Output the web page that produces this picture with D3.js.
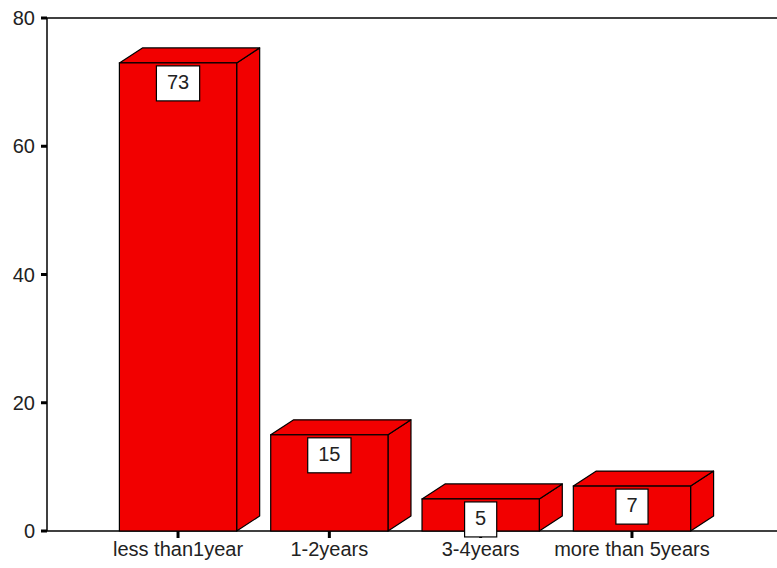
<!DOCTYPE html>
<html>
<head>
<meta charset="utf-8">
<script src="https://cdn.jsdelivr.net/npm/d3@7"></script>
<style>
body{margin:0;background:#fff;}
text{font-family:"Liberation Sans",Arial,sans-serif;fill:#222;}
</style>
</head>
<body>
<div id="chart"></div>
<script>
var categories = ["less than1year","1-2years","3-4years","more than 5years"];
var values = [73, 15, 5, 7];
var yTicks = [0, 20, 40, 60, 80];

var W = 777, H = 568;
var x0 = 47, yBase = 531, yTop = 18;
var dx = 23, dy = 15;
var red = "#f20000";

var svg = d3.select("#chart").append("svg").attr("width", W).attr("height", H);

var y = d3.scaleLinear().domain([0, 80]).range([yBase, yTop]);
var x = d3.scaleBand().domain(categories).range([102, 708])
	.paddingInner(0.225).paddingOuter(0.115);

// frame lines
svg.append("line").attr("x1", x0).attr("x2", W).attr("y1", yTop).attr("y2", yTop)
	.attr("stroke", "#000").attr("stroke-width", 1.5);
svg.append("line").attr("x1", x0).attr("x2", W).attr("y1", yBase).attr("y2", yBase)
	.attr("stroke", "#000").attr("stroke-width", 1.5);
svg.append("line").attr("x1", x0).attr("x2", x0).attr("y1", yTop).attr("y2", yBase)
	.attr("stroke", "#000").attr("stroke-width", 1.5);

// y axis ticks
var yt = svg.selectAll(".ytick").data(yTicks).enter().append("g").attr("class", "ytick");
yt.append("line").attr("x1", x0 - 6).attr("x2", x0).attr("y1", function(d){return y(d);})
	.attr("y2", function(d){return y(d);}).attr("stroke", "#000").attr("stroke-width", 3);
yt.append("text").attr("x", 35).attr("y", function(d){return y(d) + 7;})
	.attr("text-anchor", "end").style("font-size", "20px").text(function(d){return d;});

// bars
var bars = svg.selectAll(".bar").data(values).enter().append("g").attr("class", "bar");
bars.each(function(d, i){
	var g = d3.select(this);
	var l = x(categories[i]), r = l + x.bandwidth(), t = y(d);
	// side face
	g.append("path")
		.attr("d", "M" + r + "," + t + "L" + (r + dx) + "," + (t - dy) + "L" + (r + dx) + "," + (yBase - dy) + "L" + r + "," + yBase + "Z")
		.attr("fill", red).attr("stroke", "#000").attr("stroke-width", 1.2).attr("stroke-linejoin", "round");
	// top face
	g.append("path")
		.attr("d", "M" + l + "," + t + "L" + (l + dx) + "," + (t - dy) + "L" + (r + dx) + "," + (t - dy) + "L" + r + "," + t + "Z")
		.attr("fill", red).attr("stroke", "#000").attr("stroke-width", 1.2).attr("stroke-linejoin", "round");
	// front face
	g.append("rect").attr("x", l).attr("y", t).attr("width", x.bandwidth()).attr("height", yBase - t)
		.attr("fill", red).attr("stroke", "#000").attr("stroke-width", 1.2);
});

// x axis ticks
svg.selectAll(".xtick").data(categories).enter().append("line").attr("class", "xtick")
	.attr("x1", function(d){return x(d) + x.bandwidth() / 2;})
	.attr("x2", function(d){return x(d) + x.bandwidth() / 2;})
	.attr("y1", yBase).attr("y2", yBase + 7)
	.attr("stroke", "#000").attr("stroke-width", 3);

// value labels
var lab = svg.selectAll(".vlab").data(values).enter().append("g").attr("class", "vlab");
lab.each(function(d, i){
	var g = d3.select(this);
	var cx = x(categories[i]) + x.bandwidth() / 2, top = y(d) + 3;
	var box = g.append("rect");
	var txt = g.append("text").attr("x", cx).attr("y", top + 23).attr("text-anchor", "middle")
		.style("font-size", "20px").text(d);
	var w = txt.node().getBBox().width + 21;
	box.attr("x", cx - w / 2).attr("y", top).attr("width", w).attr("height", 35)
		.attr("fill", "#fff").attr("stroke", "#000").attr("stroke-width", 1.2);
});

// category labels
svg.selectAll(".xlab").data(categories).enter().append("text").attr("class", "xlab")
	.attr("x", function(d){return x(d) + x.bandwidth() / 2;})
	.attr("y", 556).attr("text-anchor", "middle").style("font-size", "20px")
	.text(function(d){return d;});
</script>
</body>
</html>
